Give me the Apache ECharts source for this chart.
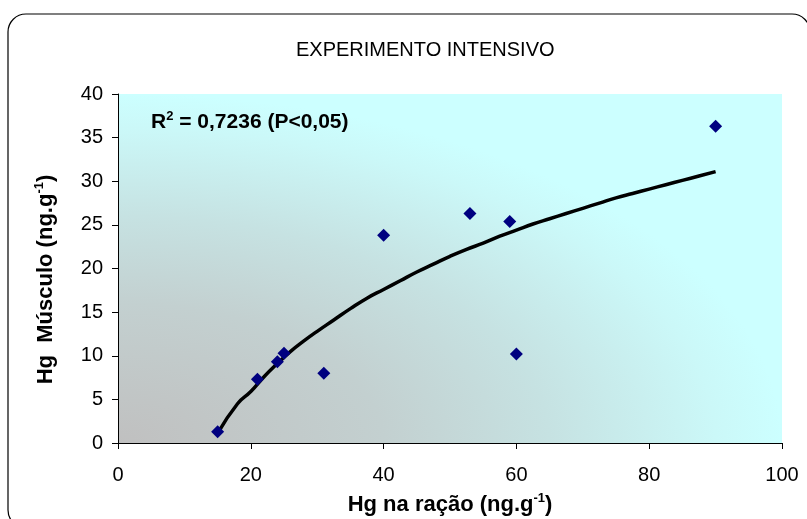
<!DOCTYPE html>
<html>
<head>
<meta charset="utf-8">
<script src="https://cdn.jsdelivr.net/npm/echarts@6/dist/echarts.min.js"></script>
<style>
html,body{margin:0;padding:0;background:#fff;}
#chart{width:807px;height:519px;}
</style>
</head>
<body>
<div id="chart"></div>
<script>
// Observed points (Hg na ração, Hg músculo)
const racao = [15, 21, 24, 25, 31, 40, 53, 59, 60, 90];
const musculo = [1.3, 7.3, 9.3, 10.3, 8.0, 23.8, 26.3, 25.4, 10.2, 36.3];

// Trend curve
const trendX = [15, 18, 20, 22, 24, 26, 28, 30, 32.5, 35, 37.5, 40, 42.5, 45, 47.5, 50, 52.5, 55, 57.5, 60, 62.5, 65, 67.5, 70, 72.5, 75, 77.5, 80, 82.5, 85, 87.5, 90];
const trendY = [1.1, 4.5, 5.9, 7.6, 9.1, 10.5, 11.7, 12.8, 14.1, 15.4, 16.6, 17.6, 18.6, 19.6, 20.5, 21.4, 22.2, 22.9, 23.7, 24.4, 25.1, 25.7, 26.3, 26.9, 27.5, 28.1, 28.6, 29.1, 29.6, 30.1, 30.6, 31.1];

const xTicks = [0, 20, 40, 60, 80, 100];
const yTicks = [0, 5, 10, 15, 20, 25, 30, 35, 40];

const titleText = 'EXPERIMENTO INTENSIVO';
const r2Text = '{b|R}{s|2}{b| = 0,7236 (P<0,05)}';
const xName = '{b|Hg na ração (ng.g}{s|-1}{b|)}';
const yName = '{b|Hg  Músculo (ng.g}{s|-1}{b|)}';

const FONT = '"Liberation Sans", Arial, sans-serif';
const richName = {
  b: {fontFamily: FONT, fontSize: 22, fontWeight: 'bold', color: '#000', lineHeight: 26},
  s: {fontFamily: FONT, fontSize: 13, fontWeight: 'bold', color: '#000', verticalAlign: 'top', lineHeight: 15}
};
const richR2 = {
  b: {fontFamily: FONT, fontSize: 21, fontWeight: 'bold', color: '#000', lineHeight: 25},
  s: {fontFamily: FONT, fontSize: 13, fontWeight: 'bold', color: '#000', verticalAlign: 'top', lineHeight: 15}
};

const chart = echarts.init(document.getElementById('chart'), null, {renderer: 'canvas'});

const gridLeft = 118, gridTop = 94, gridW = 664, gridH = 349;

chart.setOption({
  animation: false,
  backgroundColor: '#fff',
  title: [
    {text: titleText, left: 296, top: 40, padding: 0,
     textStyle: {fontFamily: FONT, fontSize: 20, fontWeight: 'normal', color: '#000'}},
    {text: r2Text, left: 151, top: 110, padding: 0,
     textStyle: {rich: richR2}}
  ],
  graphic: [
    {type: 'rect', z: -10, silent: true,
     x: gridLeft, y: gridTop, scaleX: 1, scaleY: gridH / gridW,
     shape: {x: 0, y: 0, width: gridW, height: gridW},
     style: {fill: new echarts.graphic.RadialGradient(0, 1, 1, [
       {offset: 0, color: '#c0c0c0'},
       {offset: 0.4, color: '#c3d0d0'},
       {offset: 0.65, color: '#c6e2e2'},
       {offset: 0.9, color: '#cbf8f8'},
       {offset: 1, color: '#ccffff'}
     ])}},
    {type: 'rect', z: 100, silent: true,
     shape: {x: 8, y: 14, width: 802, height: 514, r: 18},
     style: {fill: null, stroke: '#000', lineWidth: 1.2}}
  ],
  grid: {left: gridLeft, top: gridTop, width: gridW, height: gridH, show: false,
         containLabel: false, outerBoundsMode: 'none'},
  xAxis: {
    type: 'value', min: 0, max: 100, interval: 20,
    name: xName, nameLocation: 'middle', nameGap: 49,
    nameTextStyle: {rich: richName},
    axisLine: {show: true, onZero: false, lineStyle: {color: '#000', width: 1}},
    axisTick: {show: true, inside: false, length: 6, lineStyle: {color: '#000'}},
    axisLabel: {fontFamily: FONT, fontSize: 20, color: '#000', margin: 22,
      formatter: v => xTicks.includes(v) ? String(v) : ''},
    splitLine: {show: false}
  },
  yAxis: {
    type: 'value', min: 0, max: 40, interval: 5,
    name: yName, nameLocation: 'middle', nameGap: 59,
    nameTextStyle: {rich: richName, padding: [0, 22, 0, 0]},
    axisLine: {show: true, onZero: false, lineStyle: {color: '#000', width: 1}},
    axisTick: {show: true, inside: false, length: 6, lineStyle: {color: '#000'}},
    axisLabel: {fontFamily: FONT, fontSize: 20, color: '#000', margin: 15,
      formatter: v => yTicks.includes(v) ? String(v) : ''},
    splitLine: {show: false}
  },
  series: [
    {type: 'line', data: trendX.map((x, i) => [x, trendY[i]]),
     showSymbol: false, symbol: 'none', smooth: true, z: 3,
     lineStyle: {color: '#000', width: 3.5}},
    {type: 'scatter', data: racao.map((x, i) => [x, musculo[i]]),
     symbol: 'diamond', symbolSize: [13, 13], z: 4,
     itemStyle: {color: '#000080', opacity: 1}}
  ]
});
</script>
</body>
</html>
